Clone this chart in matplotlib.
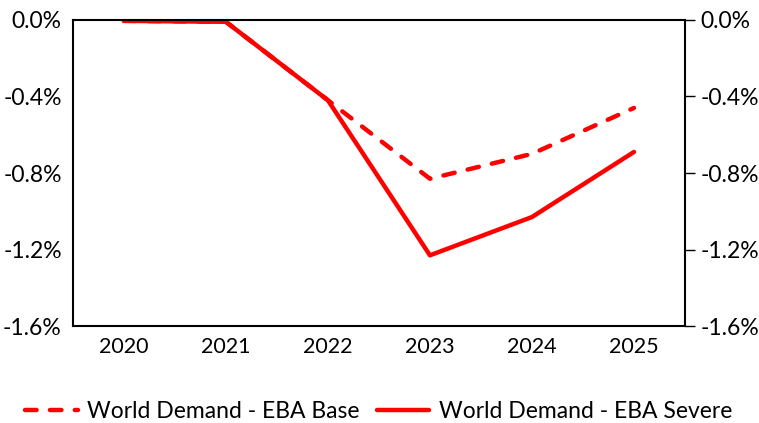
import numpy as np
import matplotlib
matplotlib.use("Agg")
import matplotlib.pyplot as plt
from matplotlib.ticker import FuncFormatter

# dados
anos = ['2020', '2021', '2022', '2023', '2024', '2025']
base = [-0.005, -0.01, -0.42, -0.83, -0.70, -0.46]
severo = [-0.005, -0.01, -0.42, -1.23, -1.03, -0.69]
yticks = [0.0, -0.4, -0.8, -1.2, -1.6]

plt.rcParams['font.family'] = ['Lato', 'DejaVu Sans']

fig = plt.figure(figsize=(7.59, 4.23), dpi=100)
ax = fig.add_axes([0.096, 0.229, 0.8065, 0.724])

x = np.arange(len(anos))
ax.plot(x, base, color='#ff0000', linewidth=3.2, linestyle=(0, (2.6, 3.0)),
        dash_capstyle='round', label='World Demand - EBA Base')
ax.plot(x, severo, color='#ff0000', linewidth=3.2, solid_capstyle='round',
        label='World Demand - EBA Severe')

ax.set_xlim(-0.5, len(anos) - 0.5)
ax.set_ylim(-1.6, 0.0)
ax.set_xticks(x)
ax.set_xticklabels(anos)
ax.set_yticks(yticks)
fmt = FuncFormatter(lambda v, p: '%.1f%%' % v)
ax.yaxis.set_major_formatter(fmt)

for s in ax.spines.values():
    s.set_linewidth(1.5)
    s.set_color('black')

ax.tick_params(axis='x', length=0, labelsize=15.5, pad=8)
ax.tick_params(axis='y', length=0, labelsize=16.5, pad=8)

# eixo secundário à direita
ax2 = ax.twinx()
ax2.set_ylim(-1.6, 0.0)
ax2.set_yticks(yticks)
ax2.yaxis.set_major_formatter(fmt)
ax2.tick_params(axis='y', length=7, width=1, labelsize=16.5, pad=4)
for s in ax2.spines.values():
    s.set_visible(False)

fig.legend(loc='lower left', bbox_to_anchor=(0.006, -0.047), ncol=2, frameon=False,
           fontsize=16.5, handlelength=2.3, handletextpad=0.4, columnspacing=0.75)

fig.savefig('out.png', dpi=100)
